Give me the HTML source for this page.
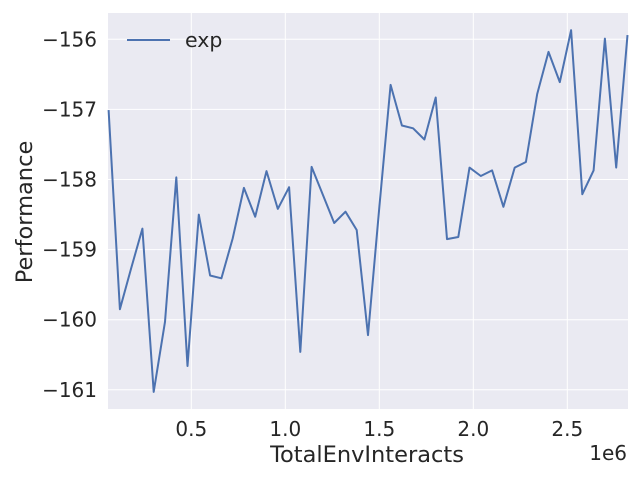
<!DOCTYPE html>
<html><head><meta charset="utf-8"><style>
body{margin:0;background:#fff;}
svg text{font-family:"DejaVu Sans","Liberation Sans",sans-serif;fill:#262626;}
</style></head><body>
<svg width="640" height="480">
<rect x="108" y="13" width="520" height="396" fill="#eaeaf2"/>
<g id="grid"></g>
<g id="ticks"></g>
<polyline id="line" fill="none" stroke="#4c72b0" stroke-width="2" stroke-linejoin="round"/>
<g>
<line x1="127" y1="40" x2="170" y2="40" stroke="#4c72b0" stroke-width="2"/>
<text x="185" y="47" font-size="20.5">exp</text>
</g>
<text x="367" y="462" font-size="22.5" text-anchor="middle">TotalEnvInteracts</text>
<text x="627" y="460" font-size="20" text-anchor="end">1e6</text>
<text transform="translate(32,212) rotate(-90)" font-size="22.5" text-anchor="middle">Performance</text>
</svg>
<script>
const xTicks=[0.5,1.0,1.5,2.0,2.5];
const xTickLabels=["0.5","1.0","1.5","2.0","2.5"];
const yTicks=[-156,-157,-158,-159,-160,-161];
const yTickLabels=["\u2212156","\u2212157","\u2212158","\u2212159","\u2212160","\u2212161"];
const steps=[0.06,0.12,0.18,0.24,0.30,0.36,0.42,0.48,0.54,0.60,0.66,0.72,0.78,0.84,0.90,0.96,1.02,1.08,1.14,1.20,1.26,1.32,1.38,1.44,1.50,1.56,1.62,1.68,1.74,1.80,1.86,1.92,1.98,2.04,2.10,2.16,2.22,2.28,2.34,2.40,2.46,2.52,2.58,2.64,2.70,2.76,2.82];
const perf=[-157.01,-159.85,-159.27,-158.70,-161.03,-160.03,-157.97,-160.66,-158.50,-159.37,-159.41,-158.84,-158.12,-158.53,-157.88,-158.42,-158.11,-160.46,-157.82,-158.22,-158.62,-158.46,-158.72,-160.22,-158.40,-156.65,-157.23,-157.27,-157.43,-156.83,-158.85,-158.82,-157.83,-157.95,-157.87,-158.39,-157.83,-157.75,-156.78,-156.18,-156.61,-155.87,-158.21,-157.87,-155.99,-157.83,-155.94];
const X=v=>191.3+(v-0.5)*188;
const Y=v=>39.3+(-156-v)*70.1;
const NS="http://www.w3.org/2000/svg";
const grid=document.getElementById('grid'),ticks=document.getElementById('ticks');
xTicks.forEach((t,i)=>{
 const l=document.createElementNS(NS,'line');
 l.setAttribute('x1',X(t));l.setAttribute('x2',X(t));l.setAttribute('y1',13);l.setAttribute('y2',409);
 l.setAttribute('stroke','#fff');l.setAttribute('stroke-width','1');
 
 
 grid.appendChild(l);
 const tx=document.createElementNS(NS,'text');
 tx.setAttribute('x',X(t));tx.setAttribute('y',436);tx.setAttribute('font-size','20');tx.setAttribute('text-anchor','middle');
 tx.textContent=xTickLabels[i];
 
 
 ticks.appendChild(tx);
});
yTicks.forEach((t,i)=>{
 const l=document.createElementNS(NS,'line');
 l.setAttribute('x1',108);l.setAttribute('x2',628);l.setAttribute('y1',Y(t));l.setAttribute('y2',Y(t));
 l.setAttribute('stroke','#fff');l.setAttribute('stroke-width','1');
 
 
 grid.appendChild(l);
 const tx=document.createElementNS(NS,'text');
 tx.setAttribute('x',97);tx.setAttribute('y',Y(t)+7);tx.setAttribute('font-size','20');tx.setAttribute('text-anchor','end');
 tx.textContent=yTickLabels[i];
 
 
 ticks.appendChild(tx);
});
document.getElementById('line').setAttribute('points',steps.map((s,i)=>X(s).toFixed(1)+','+Y(perf[i]).toFixed(1)).join(' '));
</script>
</body></html>
